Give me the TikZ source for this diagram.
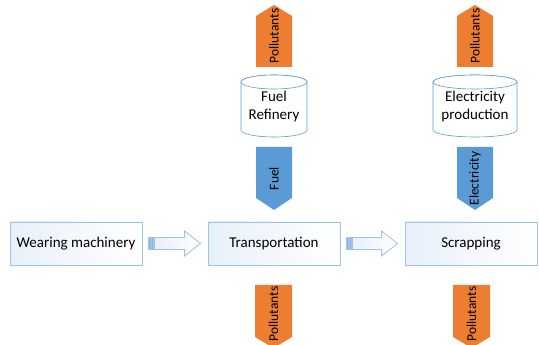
\documentclass[tikz,border=0pt]{standalone}
\usepackage{fontspec}
\setmainfont{Carlito}
\usetikzlibrary{calc}
\definecolor{orng}{RGB}{237,125,49}
\definecolor{blu}{RGB}{91,155,213}
\definecolor{bordr}{RGB}{157,195,230}
\definecolor{lightb}{RGB}{232,240,250}
\definecolor{stripec}{RGB}{143,180,222}
\tikzset{
  box/.style={draw=bordr, line width=0.8pt, left color=lightb, right color=white,
    minimum width=132pt, minimum height=43pt, inner sep=0pt, font=\fontsize{15}{18}\selectfont},
  vtext/.style={rotate=90, inner sep=0pt, font=\fontsize{13.5}{16}\selectfont},
  cyltext/.style={align=center, inner sep=0pt, font=\fontsize{15}{18}\selectfont},
  cyl/.style={draw=blu, line width=0.6pt, fill=white},
  barrow/.style={draw=bordr, line width=0.8pt, left color=lightb, right color=white},
  stripebar/.style={draw=bordr, line width=0.4pt, fill=stripec},
}
\newcommand{\blockarrow}[2]{%
  \coordinate (#1s) at ($(#1.east)+(6pt,0)$);
  \coordinate (#2e) at ($(#2.west)+(-7pt,0)$);
  \draw[barrow] let \p1=(#1s), \p2=(#2e) in
    ({\x1+6pt},{\y1+6pt}) -- ({\x2-16pt},{\y1+6pt}) -- ({\x2-16pt},{\y1+12.5pt})
    -- (\x2,\y1) -- ({\x2-16pt},{\y1-12.5pt}) -- ({\x2-16pt},{\y1-6pt})
    -- ({\x1+6pt},{\y1-6pt}) -- cycle;
  \draw[stripebar] let \p1=(#1s) in
    (\x1,{\y1-6pt}) rectangle ({\x1+2pt},{\y1+6pt})
    ({\x1+3pt},{\y1-6pt}) rectangle ({\x1+5pt},{\y1+6pt});
}
\begin{document}
\begin{tikzpicture}[x=1pt,y=1pt]
\useasboundingbox (0,0) rectangle (539,345);
\begin{scope}
\clip (0,0) rectangle (539,345);
% main boxes
\node[box] (wm) at (76,101.5) {Wearing machinery};
\node[box] (tr) at (274,101.5) {Transportation};
\node[box] (sc) at (471,101.5) {Scrapping};
\blockarrow{wm}{tr}
\blockarrow{tr}{sc}
% left column: pollutants up
\fill[orng] (256,278) -- (256,329) -- (274,340) -- (292,329) -- (292,278) -- cycle;
\node[vtext] (p1) at (274,309) {Pollutants};
% left cylinder
\filldraw[cyl] (241,263) -- (241,215) arc[start angle=180, end angle=360, x radius=33pt, y radius=7pt]
  -- (307,263) arc[start angle=0, end angle=180, x radius=33pt, y radius=7pt] -- cycle;
\draw[cyl] (274,263) ellipse[x radius=33pt, y radius=7pt];
\node[cyltext] (fr) at (274,238) {Fuel\\Refinery};
% fuel arrow down
\fill[blu] (256,198) -- (292,198) -- (292,147) -- (274,135) -- (256,147) -- cycle;
\node[vtext] (fu) at (274,166.5) {Fuel};
% right column: pollutants up
\fill[orng] (457,278) -- (457,329) -- (475,340) -- (493,329) -- (493,278) -- cycle;
\node[vtext] (p2) at (475,309) {Pollutants};
% right cylinder
\filldraw[cyl] (433,263) -- (433,215) arc[start angle=180, end angle=360, x radius=42pt, y radius=7pt]
  -- (517,263) arc[start angle=0, end angle=180, x radius=42pt, y radius=7pt] -- cycle;
\draw[cyl] (475,263) ellipse[x radius=42pt, y radius=7pt];
\node[cyltext] (ep) at (475,238) {Electricity\\production};
% electricity arrow down
\fill[blu] (457,198) -- (493,198) -- (493,147) -- (475,135) -- (457,147) -- cycle;
\node[vtext] (el) at (475,166.5) {Electricity};
% bottom pollutants
\fill[orng] (255,60) -- (292,60) -- (292,8) -- (273.5,-3) -- (255,8) -- cycle;
\node[vtext] (p3) at (273.5,31) {Pollutants};
\fill[orng] (453,60) -- (490,60) -- (490,8) -- (471.5,-3) -- (453,8) -- cycle;
\node[vtext] (p4) at (471.5,31) {Pollutants};
\end{scope}
\end{tikzpicture}
\end{document}
